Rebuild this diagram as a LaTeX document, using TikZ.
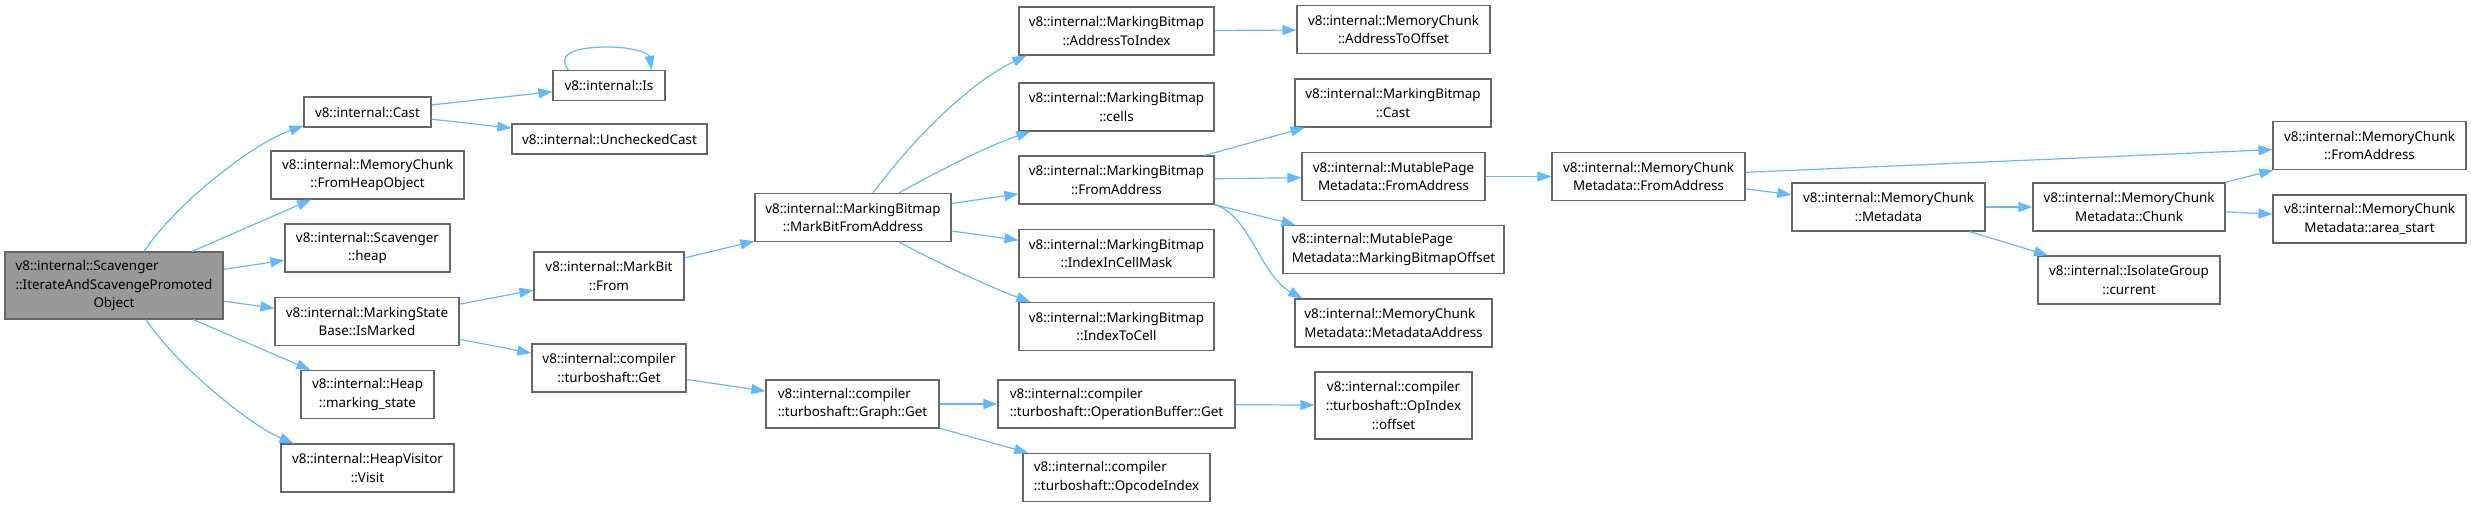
\documentclass[tikz,border=0pt]{standalone}
\usepackage{fontspec}
\setmainfont{Noto Sans}
\usetikzlibrary{arrows.meta}
\definecolor{edgeblue}{HTML}{63B8FF}
\definecolor{nodegray}{HTML}{666666}
\definecolor{mainfill}{HTML}{999999}
\tikzset{
  dbox/.style={draw=nodegray, line width=1.2pt, fill=white, inner sep=0pt, align=center,
    minimum height=48pt, font=\fontsize{13.4}{18.7}\selectfont},
  lbox/.style={dbox, align=left},
  mainbox/.style={dbox, fill=mainfill},
  edge/.style={draw=edgeblue, line width=1.2pt, -{Triangle[length=14pt,width=10pt]}},
}
\begin{document}
\begin{tikzpicture}[x=1pt,y=-1pt]
\useasboundingbox (0,0) rectangle (2471,507);
% nodes
\node[mainbox, minimum width=218pt, minimum height=67pt] (main) at (114,285.5)
  {\begin{tabular}{@{}l@{}}v8::internal::Scavenger\\::IterateAndScavengePromoted\\\multicolumn{1}{@{}c@{}}{Object}\end{tabular}};
\node[dbox, minimum width=127pt, minimum height=30pt] (cast) at (367.5,112) {v8::internal::Cast};
\node[dbox, minimum width=112pt, minimum height=30pt] (is) at (609,85.5) {v8::internal::Is};
\node[dbox, minimum width=195pt, minimum height=30pt] (uc) at (609.5,139) {v8::internal::UncheckedCast};
\node[dbox, minimum width=193pt] (fho) at (367.5,175) {v8::internal::MemoryChunk\\::FromHeapObject};
\node[dbox, minimum width=165pt] (heap) at (367.5,248) {v8::internal::Scavenger\\::heap};
\node[dbox, minimum width=184pt] (ismarked) at (367,321.5) {v8::internal::MarkingState\\Base::IsMarked};
\node[dbox, minimum width=133pt] (mstate) at (367.5,394.5) {v8::internal::Heap\\::marking\_state};
\node[dbox, minimum width=173pt] (visit) at (367.5,468) {v8::internal::HeapVisitor\\::Visit};
\node[dbox, minimum width=150pt] (markbit) at (609,276) {v8::internal::MarkBit\\::From};
\node[dbox, minimum width=154pt] (tsget) at (609,368) {v8::internal::compiler\\::turboshaft::Get};
\node[dbox, minimum width=196pt] (mbfa) at (853,217.5) {v8::internal::MarkingBitmap\\::MarkBitFromAddress};
\node[dbox, minimum width=195pt] (ati) at (1116.5,31) {v8::internal::MarkingBitmap\\::AddressToIndex};
\node[dbox, minimum width=195pt] (cells) at (1116.5,107) {v8::internal::MarkingBitmap\\::cells};
\node[dbox, minimum width=195pt] (fa) at (1116.5,180) {v8::internal::MarkingBitmap\\::FromAddress};
\node[dbox, minimum width=195pt] (icm) at (1116.5,253.5) {v8::internal::MarkingBitmap\\::IndexInCellMask};
\node[dbox, minimum width=195pt] (itc) at (1116.5,326.5) {v8::internal::MarkingBitmap\\::IndexToCell};
\node[lbox, minimum width=173pt] (graphget) at (852.5,404) {v8::internal::compiler\\::turboshaft::Graph::Get};
\node[lbox, minimum width=237pt] (obget) at (1116.5,404) {v8::internal::compiler\\::turboshaft::OperationBuffer::Get};
\node[lbox, minimum width=187pt] (opcode) at (1116.5,477.5) {v8::internal::compiler\\::turboshaft::OpcodeIndex};
\node[dbox, minimum width=193pt] (ato) at (1393.5,29.5) {v8::internal::MemoryChunk\\::AddressToOffset};
\node[dbox, minimum width=196pt] (mbcast) at (1393,103) {v8::internal::MarkingBitmap\\::Cast};
\node[dbox, minimum width=183pt] (mpmfa) at (1393.5,176.5) {v8::internal::MutablePage\\Metadata::FromAddress};
\node[lbox, minimum width=221pt] (mbo) at (1393.5,249.5) {v8::internal::MutablePage\\Metadata::MarkingBitmapOffset};
\node[lbox, minimum width=197pt] (mda) at (1393.5,323) {v8::internal::MemoryChunk\\Metadata::MetadataAddress};
\node[dbox, minimum width=157pt, minimum height=67pt] (opoff) at (1393.5,405.5) {v8::internal::compiler\\::turboshaft::OpIndex\\::offset};
\node[dbox, minimum width=193pt] (mcmdfa) at (1648.5,176.5) {v8::internal::MemoryChunk\\Metadata::FromAddress};
\node[dbox, minimum width=193pt] (metadata) at (1888.5,207) {v8::internal::MemoryChunk\\::Metadata};
\node[dbox, minimum width=192pt] (chunk) at (2129,207) {v8::internal::MemoryChunk\\Metadata::Chunk};
\node[dbox, minimum width=182pt] (isolate) at (2129,280) {v8::internal::IsolateGroup\\::current};
\node[dbox, minimum width=193pt] (mcfa) at (2369.5,145.5) {v8::internal::MemoryChunk\\::FromAddress};
\node[dbox, minimum width=193pt] (area) at (2369.5,219) {v8::internal::MemoryChunk\\Metadata::area\_start};
% edges
\draw[edge] ([xshift=30pt]main.north) .. controls (175,205) and (250,145) .. ([yshift=2pt]cast.south west);
\draw[edge] (main) -- (fho);
\draw[edge] (main) -- (heap);
\draw[edge] (main) -- (ismarked);
\draw[edge] (main) -- (mstate);
\draw[edge] ([xshift=32pt]main.south) .. controls (177,366) and (250,425) .. ([xshift=13pt]visit.north west);
\draw[edge] (cast) -- (is);
\draw[edge] (cast) -- (uc);
\draw[edge] ([xshift=16pt]is.north west) .. controls (555,52) and (580,47) .. (608,47) .. controls (632,47) and (649,53) .. ([xshift=-14pt]is.north east);
\draw[edge] (ismarked) -- (markbit);
\draw[edge] (ismarked) -- (tsget);
\draw[edge] (markbit) -- (mbfa);
\draw[edge] (tsget) -- (graphget);
\draw[edge] ([xshift=20pt]mbfa.north) .. controls (920,130) and (975,80) .. ([xshift=8pt]ati.south west);
\draw[edge] ([xshift=46pt]mbfa.north) .. controls (940,170) and (990,145) .. ([xshift=12pt]cells.south west);
\draw[edge] (mbfa) -- (fa);
\draw[edge] (mbfa) -- (icm);
\draw[edge] ([xshift=46pt]mbfa.south) .. controls (940,264) and (990,287) .. ([xshift=12pt]itc.north west);
\draw[edge] (ati) -- (ato);
\draw[edge] (fa) -- (mbcast);
\draw[edge] (fa) -- (mpmfa);
\draw[edge] (fa) -- (mbo);
\draw[edge] (fa.south east) .. controls (1250,215) and (1260,275) .. ([xshift=8pt]mda.north west);
\draw[edge] (mpmfa) -- (mcmdfa);
\draw[edge] (mcmdfa) -- (mcfa);
\draw[edge] (mcmdfa) -- (metadata);
\draw[edge] (metadata) -- (chunk);
\draw[edge] (metadata) -- (isolate);
\draw[edge] (chunk) -- (mcfa);
\draw[edge] (chunk) -- (area);
\draw[edge] (graphget) -- (obget);
\draw[edge] (graphget) -- (opcode);
\draw[edge] (obget) -- (opoff);
\end{tikzpicture}
\end{document}
